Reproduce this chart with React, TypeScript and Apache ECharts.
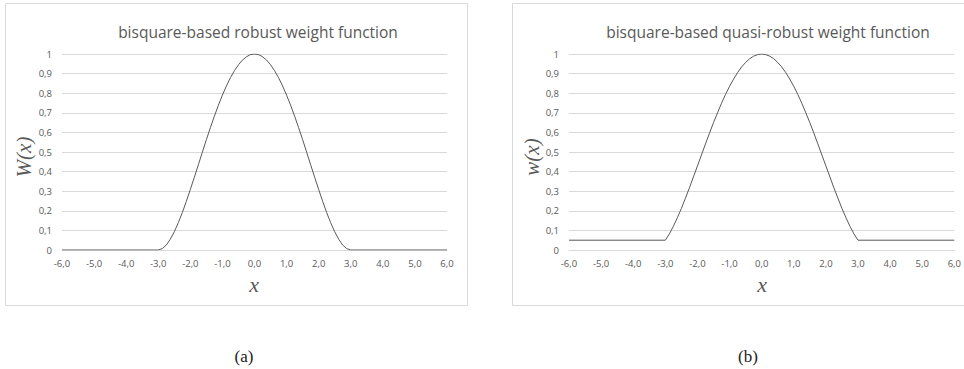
import React, { useEffect, useRef } from "react";
import * as echarts from "echarts";

const xValues = [-6, -3, -2.875, -2.75, -2.625, -2.5, -2.375, -2.25, -2.125, -2, -1.875, -1.75, -1.625, -1.5, -1.375, -1.25, -1.125, -1, -0.875, -0.75, -0.625, -0.5, -0.375, -0.25, -0.125, 0, 0.125, 0.25, 0.375, 0.5, 0.625, 0.75, 0.875, 1, 1.125, 1.25, 1.375, 1.5, 1.625, 1.75, 1.875, 2, 2.125, 2.25, 2.375, 2.5, 2.625, 2.75, 2.875, 3, 6];
const robustWeights = [0, 0, 0.007, 0.025, 0.055, 0.093, 0.139, 0.191, 0.248, 0.309, 0.371, 0.435, 0.499, 0.563, 0.624, 0.683, 0.739, 0.79, 0.837, 0.879, 0.915, 0.945, 0.969, 0.986, 0.997, 1, 0.997, 0.986, 0.969, 0.945, 0.915, 0.879, 0.837, 0.79, 0.739, 0.683, 0.624, 0.563, 0.499, 0.435, 0.371, 0.309, 0.248, 0.191, 0.139, 0.093, 0.055, 0.025, 0.007, 0, 0];
const quasiWeights = [0.05, 0.05, 0.082, 0.121, 0.165, 0.212, 0.264, 0.317, 0.373, 0.429, 0.485, 0.541, 0.596, 0.65, 0.7, 0.749, 0.794, 0.835, 0.872, 0.905, 0.934, 0.957, 0.976, 0.989, 0.997, 1, 0.997, 0.989, 0.976, 0.957, 0.934, 0.905, 0.872, 0.835, 0.794, 0.749, 0.7, 0.65, 0.596, 0.541, 0.485, 0.429, 0.373, 0.317, 0.264, 0.212, 0.165, 0.121, 0.082, 0.05, 0.05];
const titles = ["bisquare-based robust weight function", "bisquare-based quasi-robust weight function"];
const yNames = ["W(x)", "w(x)"];
const xName = "x";
const captions = ["(a)", "(b)"];

const GRAY = "#595959";
const GRID = "#d9d9d9";

export default function App() {
  const ref = useRef<HTMLDivElement>(null);
  useEffect(() => {
    if (!ref.current) return;
    const chart = echarts.init(ref.current, null, { renderer: "svg" });
    const fmtX = (v: number) => v.toFixed(1).replace(".", ",");
    const fmtY = (v: number) => String(Math.round(v * 10) / 10).replace(".", ",");
    const grids = [
      { left: 62, right: 964 - 447, top: 54, bottom: 369 - 250 },
      { left: 569, right: 964 - 955, top: 54, bottom: 369 - 250 },
    ];
    const xAxis = grids.map((_, i) => ({
      type: "value",
      gridIndex: i,
      min: -6,
      max: 6,
      interval: 1,
      axisLine: { show: true, lineStyle: { color: GRID } },
      axisTick: { show: false },
      splitLine: { show: false },
      axisLabel: { color: GRAY, fontSize: 9.5, fontFamily: "Open Sans", margin: 8, formatter: fmtX },
    }));
    const yAxis = grids.map((_, i) => ({
      type: "value",
      gridIndex: i,
      min: 0,
      max: 1,
      interval: 0.1,
      axisLine: { show: false },
      axisTick: { show: false },
      splitLine: { show: true, lineStyle: { color: GRID, width: 1 } },
      axisLabel: { color: GRAY, fontSize: 9.5, fontFamily: "Open Sans", margin: 10, formatter: fmtY },
    }));
    const series = [robustWeights, quasiWeights].map((vals, i) => ({
      type: "line",
      xAxisIndex: i,
      yAxisIndex: i,
      data: xValues.map((x, j) => [x, vals[j]]),
      showSymbol: false,
      symbol: "none",
      lineStyle: { color: GRAY, width: 1 },
      z: 3,
    }));
    const centers = [254, 762];
    const graphic: any[] = [
      { type: "rect", shape: { x: 5.5, y: 3.5, width: 462, height: 302 }, style: { fill: "none", stroke: GRID, lineWidth: 1 }, z: -1 },
      { type: "rect", shape: { x: 512.5, y: 3.5, width: 470, height: 302 }, style: { fill: "none", stroke: GRID, lineWidth: 1 }, z: -1 },
    ];
    [0, 1].forEach((i) => {
      graphic.push({
        type: "text",
        x: i === 0 ? 258 : 768,
        y: 32,
        style: { text: titles[i], fill: GRAY, font: '15.5px "Open Sans"', textAlign: "center", textVerticalAlign: "middle" },
      });
      graphic.push({
        type: "text",
        x: i === 0 ? 24 : 532,
        y: 157,
        rotation: Math.PI / 2,
        style: { text: yNames[i], fill: GRAY, font: 'italic 21px "Liberation Serif"', textAlign: "center", textVerticalAlign: "middle" },
      });
      graphic.push({
        type: "text",
        x: centers[i],
        y: 284,
        style: { text: xName, fill: GRAY, font: 'italic 22px "Liberation Serif"', textAlign: "center", textVerticalAlign: "middle" },
      });
      graphic.push({
        type: "text",
        x: i === 0 ? 244 : 748,
        y: 356,
        style: { text: captions[i], fill: "#222", font: '17px "Liberation Serif"', textAlign: "center", textVerticalAlign: "middle" },
      });
    });
    chart.setOption({
      animation: false,
      backgroundColor: "#ffffff",
      grid: grids,
      xAxis,
      yAxis,
      series,
      graphic,
    } as any);
    return () => chart.dispose();
  }, []);
  return <div ref={ref} style={{ position: "absolute", left: 0, top: 0, width: 964, height: 369 }} />;
}
